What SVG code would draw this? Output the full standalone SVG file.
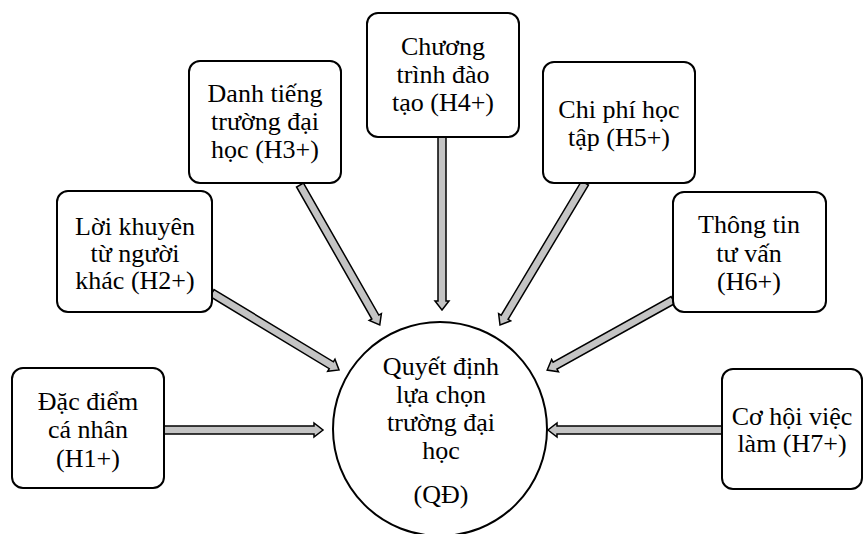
<svg xmlns="http://www.w3.org/2000/svg" width="864" height="534" viewBox="0 0 864 534">
<style>
.box{fill:#fff;stroke:#000;stroke-width:2}
.circ{fill:#fff;stroke:#000;stroke-width:2}
.arr{fill:#c4c4c4;stroke:#000;stroke-width:1.5;stroke-linejoin:miter}
text{font-family:"Liberation Serif","Times New Roman",serif;font-size:26px;fill:#000;text-anchor:middle}
</style>
<rect width="864" height="534" fill="#fff"/>
<g id="connectors">
<path class="arr" transform="translate(164,430)" d="M0,-4 H150 V-7 L159,0 L150,7 V4 H0 Z"/>
<path class="arr" transform="translate(212,293) rotate(31.2)" d="M0,-4 H139.5 V-7 L148.5,0 L139.5,7 V4 H0 Z"/>
<path class="arr" transform="translate(300,185) rotate(60.3)" d="M0,-4 H152 V-7 L161,0 L152,7 V4 H0 Z"/>
<path class="arr" transform="translate(442,137) rotate(90)" d="M0,-4 H164 V-7 L173,0 L164,7 V4 H0 Z"/>
<path class="arr" transform="translate(585,183) rotate(120.9)" d="M0,-4 H156.5 V-7 L165.5,0 L156.5,7 V4 H0 Z"/>
<path class="arr" transform="translate(673,300) rotate(150.9)" d="M0,-4 H135 V-7 L144,0 L135,7 V4 H0 Z"/>
<path class="arr" transform="translate(722,430) rotate(180)" d="M0,-4 H165 V-7 L174,0 L165,7 V4 H0 Z"/>
</g>
<g id="QD">
<circle class="circ" cx="440" cy="429" r="107"/>
<text x="441" y="375">Quyết định</text>
<text x="441" y="403">lựa chọn</text>
<text x="441" y="431">trường đại</text>
<text x="441" y="459">học</text>
<text x="441" y="503">(QĐ)</text>
</g>
<g id="H1">
<rect class="box" x="12" y="368" width="152" height="120" rx="11"/>
<text x="88" y="410">Đặc điểm</text>
<text x="88" y="438">cá nhân</text>
<text x="88" y="467">(H1+)</text>
</g>
<g id="H2">
<rect class="box" x="57" y="191" width="155" height="121" rx="11"/>
<text x="135" y="235">Lời khuyên</text>
<text x="135" y="262">từ người</text>
<text x="135" y="289">khác (H2+)</text>
</g>
<g id="H3">
<rect class="box" x="189" y="61" width="152" height="122" rx="11"/>
<text x="265" y="102">Danh tiếng</text>
<text x="265" y="130">trường đại</text>
<text x="265" y="158">học (H3+)</text>
</g>
<g id="H4">
<rect class="box" x="367" y="13" width="152" height="124" rx="11"/>
<text x="443" y="55">Chương</text>
<text x="443" y="83">trình đào</text>
<text x="443" y="111">tạo (H4+)</text>
</g>
<g id="H5">
<rect class="box" x="543" y="62" width="152" height="121" rx="11"/>
<text x="619" y="118">Chi phí học</text>
<text x="619" y="146">tập (H5+)</text>
</g>
<g id="H6">
<rect class="box" x="673" y="192" width="153" height="120" rx="11"/>
<text x="749" y="233">Thông tin</text>
<text x="749" y="262">tư vấn</text>
<text x="749" y="290">(H6+)</text>
</g>
<g id="H7">
<rect class="box" x="722" y="369" width="140" height="120" rx="11"/>
<text x="792" y="425">Cơ hội việc</text>
<text x="792" y="452">làm (H7+)</text>
</g>
</svg>
